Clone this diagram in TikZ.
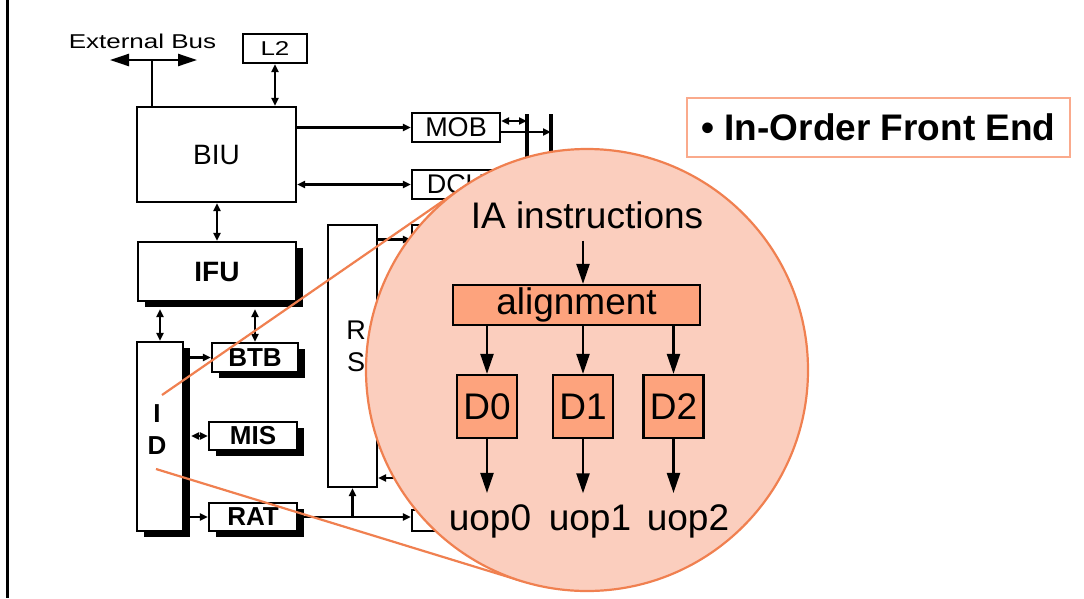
\documentclass[tikz,border=0pt]{standalone}
\usepackage{fontspec}
\setmainfont{Liberation Sans}
\usetikzlibrary{arrows.meta,shadows}
\definecolor{lensfill}{RGB}{251,206,190}
\definecolor{lensedge}{RGB}{240,128,80}
\definecolor{unitfill}{RGB}{253,163,125}
\definecolor{tagedge}{RGB}{250,170,140}
\begin{document}
\begin{tikzpicture}[x=1pt,y=-1pt,
  >={Triangle[length=8pt,width=7pt]},
  blk/.style={draw, fill=white, line width=2.1pt, inner sep=0pt},
  shbox/.style={blk, drop shadow={shadow xshift=7pt,shadow yshift=-6pt,fill=black,opacity=1}},
  wire/.style={line width=2.2pt},
  buswire/.style={line width=2.4pt, >={Triangle[length=19pt,width=12pt]}, <->},
  bigwire/.style={line width=2.2pt, >={Triangle[length=20pt,width=13pt]}, ->},
  zoomline/.style={draw=lensedge, line width=2.2pt},
  lensunit/.style={draw, fill=unitfill, line width=2.2pt, inner sep=0pt, font=\fontsize{37}{40}\selectfont},
  lenstext/.style={font=\fontsize{37}{40}\selectfont, inner sep=0pt},
  txtA/.style={font=\fontsize{28}{32}\selectfont},
  txtM/.style={font=\fontsize{27}{32}\selectfont},
  txtB/.style={font=\bfseries\fontsize{26}{32}\selectfont},
]
\useasboundingbox (0,0) rectangle (1084,598);
\fill[white] (0,0) rectangle (1084,598);

% page edge
\draw[line width=2.2pt] (7.5,0) -- (7.5,598);

% ---------- processor block diagram ----------
\node[blk, minimum width=64pt, minimum height=29pt, font=\fontsize{20}{22}\selectfont] (l2) at (275,48.5) {\scalebox{1.3}[1]{L2}};
\node[blk, minimum width=159pt, minimum height=95pt, txtA] (biu) at (216.5,154.5) {BIU};
\node[blk, minimum width=88pt, minimum height=29pt, txtM] (mob) at (456,127.5) {MOB};
\node[blk, minimum width=88pt, minimum height=29pt, txtM] (dcu) at (456,184.5) {DCU};
\node[blk, minimum width=88pt, minimum height=29pt] (eu) at (456,239.5) {};
\node[blk, minimum width=88pt, minimum height=21pt] (mem) at (456,520.5) {};
\node[shbox, minimum width=158pt, minimum height=59pt, font=\bfseries\fontsize{28}{32}\selectfont] (ifu) at (217,271.5) {IFU};
\node[shbox, minimum width=46pt, minimum height=189pt] (id) at (160,436.5) {};
\node[txtB, align=center, inner sep=0pt] (idlbl) at (157,430) {I\\D};
\node[shbox, minimum width=86pt, minimum height=29pt, txtB] (btb) at (255,357.5) {BTB};
\node[shbox, minimum width=88pt, minimum height=28pt, txtB] (mis) at (253,436) {MIS};
\node[shbox, minimum width=88pt, minimum height=28pt, txtB] (rat) at (253,517) {RAT};
\node[blk, minimum width=49pt, minimum height=262pt] (rs) at (352.5,356) {};
\node[txtM, align=center, inner sep=0pt] (rslbl) at (356,346) {R\\S};

\node[font=\fontsize{20}{22}\selectfont, inner sep=0pt] (ebus) at (142.5,41) {\scalebox{1.3}[1]{External Bus}};
\coordinate (ebusl) at (110,60);
\coordinate (ebusr) at (197,60);
\coordinate (ebusj) at (152,60);
\draw[buswire] (ebusl) -- (ebusr);
\draw[wire] (ebusj) -- (ebusj |- biu.north);

\draw[wire,<->] (l2.south) -- (l2.south |- biu.north);
\draw[wire,->] (biu.east |- mob) -- (mob.west);
\draw[wire,<->] (biu.east |- dcu) -- (dcu.west);
\draw[wire,<->] (biu.south -| ifu) -- (ifu.north);
\draw[wire,<->] ([yshift=-7pt]ifu.south -| id) -- (id.north);
\draw[wire,<->] ([yshift=-7pt]ifu.south -| btb) -- (btb.north);
\draw[wire,->] (id.east |- btb) -- (btb.west);
\draw[wire,<->] ([xshift=7pt]id.east |- mis) -- (mis.west);
\draw[wire,->] (id.east |- rat) -- (rat.west);
\coordinate (rsj) at (rs.south |- rat.east);
\draw[wire,->] (rat.east) -- (mem.west |- rat.east);
\draw[wire,->] (rsj) -- (rs.south);
\draw[wire,->] (rs.east |- eu) -- (eu.west);
\coordinate (rsin1) at (400,478);
\coordinate (rsin2) at (400,448);
\draw[wire,->] (rsin1) -- (rsin1 -| rs.east);
\draw[wire,->] (rsin2) -- (rsin2 -| rs.east);

% memory buses beside the MOB
\coordinate (bar1) at (527,114);
\coordinate (bar2) at (551,114);
\draw[wire,<->] ([yshift=6.5pt]mob.east) -- ([yshift=6.5pt]mob.east -| bar1);
\draw[wire,->] ([yshift=-4.5pt]mob.east) -- ([yshift=-4.5pt]mob.east -| bar2);
\draw[line width=4.5pt] (bar1) -- ++(0,90);
\draw[line width=4.5pt] (bar2) -- ++(0,90);

% ---------- magnifier on the decoder ----------
\coordinate (zu) at (162,395);
\coordinate (zl) at (156,469);
\coordinate (tu) at (461.4,188.2);
\coordinate (tl) at (522.2,581.2);
\draw[zoomline] (zu) -- (tu);
\draw[zoomline] (zl) -- (tl);
\node[circle, draw=lensedge, fill=lensfill, line width=2.2pt, minimum size=442pt, inner sep=0pt] (lens) at (587,370) {};

\node[lenstext, anchor=base] (ia) at (587,228) {IA instructions};
\node[lensunit, minimum width=247pt, minimum height=40pt] (align) at (576.5,305) {alignment};
\node[lensunit, minimum width=60pt, minimum height=63pt] (d0) at (487,406.5) {D0};
\node[lensunit, minimum width=60pt, minimum height=63pt] (d1) at (583,406.5) {D1};
\node[lensunit, minimum width=60pt, minimum height=63pt] (d2) at (673.5,406.5) {D2};
\node[lenstext, anchor=base] (u0) at (490,530) {uop0};
\node[lenstext, anchor=base] (u1) at (590,530) {uop1};
\node[lenstext, anchor=base] (u2) at (688,530) {uop2};

\draw[bigwire] ([yshift=-12pt]ia.south -| d1) -- (align.north -| d1);
\draw[bigwire] (align.south -| d0) -- (d0.north);
\draw[bigwire] (align.south -| d1) -- (d1.north);
\draw[bigwire] (align.south -| d2) -- (d2.north);
\draw[bigwire] (d0.south) -- ([yshift=11pt]u0.north -| d0);
\draw[bigwire] (d1.south) -- ([yshift=11pt]u1.north -| d1);
\draw[bigwire] (d2.south) -- ([yshift=11pt]u2.north -| d2);

% ---------- slide tag ----------
\node[draw=tagedge, line width=2.2pt, minimum width=383pt, minimum height=59pt, inner sep=0pt,
      font=\bfseries\fontsize{37}{40}\selectfont] (tag) at (878.5,127.5) {\textbullet\ In-Order Front End};
\end{tikzpicture}
\end{document}
